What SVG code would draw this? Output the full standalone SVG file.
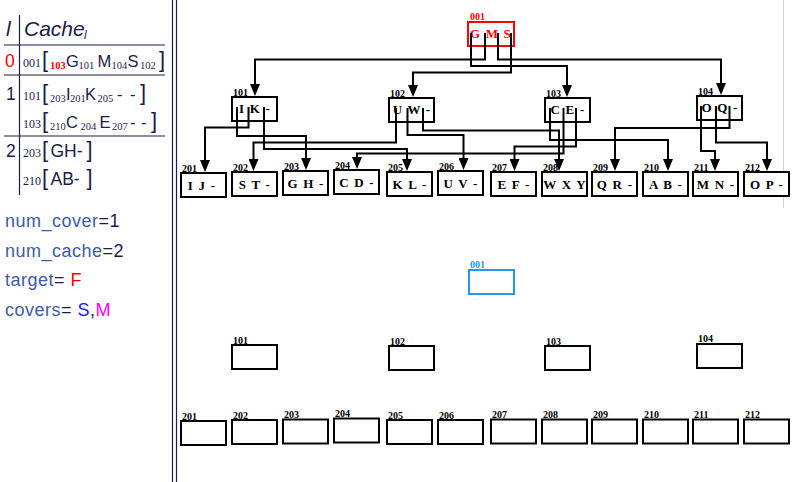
<svg xmlns="http://www.w3.org/2000/svg" width="794" height="482" viewBox="0 0 794 482">
<defs>
<style>
.nb{fill:#fff;stroke:#000;stroke-width:2}
.rb{fill:#fff;stroke:#ff0000;stroke-width:2}
.bb{fill:#fff;stroke:#2196f3;stroke-width:2}
.lbl{font-family:"Liberation Serif",serif;font-weight:bold;font-size:10px;fill:#000}
.key{font-family:"Liberation Serif",serif;font-weight:bold;font-size:13px;fill:#000;text-anchor:middle;letter-spacing:1.2px}
.cn{fill:none;stroke:#000;stroke-width:2;marker-end:url(#ah)}
.sans{font-family:"Liberation Sans",Arial,sans-serif;fill:#1b1b4b}
.big{font-size:16.5px}
.br{font-size:22px}
.ser{font-family:"Liberation Serif",serif;fill:#1b1b4b;font-size:12px}
.sub{font-family:"Liberation Serif",serif;fill:#1b1b4b;font-size:10.5px}
.rule{stroke:#1b1b4b;stroke-width:1.2}
.info{font-family:"Liberation Sans",Arial,sans-serif;font-size:18px;letter-spacing:0.5px}
</style>
<marker id="ah" markerUnits="userSpaceOnUse" markerWidth="12" markerHeight="10" refX="6" refY="5" orient="auto">
<path d="M0,0 L12,5 L0,10 z" fill="#000"/>
</marker>
</defs>
<rect x="0" y="0" width="794" height="482" fill="#fff"/>

<!-- left panel -->
<g id="table">
<line class="rule" x1="19.5" y1="15" x2="19.5" y2="195"/>
<line class="rule" x1="4" y1="45" x2="165" y2="45"/>
<line class="rule" x1="4" y1="75" x2="165" y2="75"/>
<line class="rule" x1="4" y1="136" x2="165" y2="136"/>
<text class="sans" x="6" y="36" font-size="21" font-style="italic">l</text>
<text class="sans" x="24" y="36" font-size="21" font-style="italic">Cache</text>
<text class="sans" x="84" y="39" font-size="12" font-style="italic">l</text>

<text class="sans" x="5" y="67" font-size="17.5" style="fill:#ff0000">0</text>
<text class="ser" x="23" y="67">001</text>
<text class="sans br" x="42" y="67">[</text>
<text x="50" y="69" font-family="Liberation Serif,serif" font-weight="bold" font-size="10.5" fill="#ff0000">103</text>
<text class="sans big" x="66" y="67">G</text>
<text class="sub" x="78.5" y="69">101</text>
<text class="sans big" x="97.5" y="67">M</text>
<text class="sub" x="111.5" y="69">104</text>
<text class="sans big" x="127.5" y="67">S</text>
<text class="sub" x="140" y="69">102</text>
<text class="sans br" x="159" y="67">]</text>

<text class="sans" x="6" y="100" font-size="17.5">1</text>
<text class="ser" x="23" y="100">101</text>
<text class="sans br" x="42" y="100">[</text>
<text class="sub" x="50" y="102">203</text>
<text class="sans big" x="66" y="100">I</text>
<text class="sub" x="70" y="102">201</text>
<text class="sans big" x="85" y="100">K</text>
<text class="sub" x="97.5" y="102">205</text>
<text class="sans big" x="117" y="100">-</text>
<text class="sans big" x="130" y="100">-</text>
<text class="sans br" x="140" y="100">]</text>

<text class="ser" x="23" y="128">103</text>
<text class="sans br" x="42" y="128">[</text>
<text class="sub" x="50" y="130">210</text>
<text class="sans big" x="66" y="128">C</text>
<text class="sub" x="80.5" y="130">204</text>
<text class="sans big" x="99.5" y="128">E</text>
<text class="sub" x="112" y="130">207</text>
<text class="sans big" x="130" y="128">-</text>
<text class="sans big" x="141" y="128">-</text>
<text class="sans br" x="151" y="128">]</text>

<text class="sans" x="6" y="157" font-size="17.5">2</text>
<text class="ser" x="23" y="157">203</text>
<text class="sans br" x="42" y="157">[</text>
<text class="sans" x="50.5" y="157" font-size="17.5">GH-</text>
<text class="sans br" x="86.5" y="157">]</text>

<text class="ser" x="23" y="185">210</text>
<text class="sans br" x="42" y="185">[</text>
<text class="sans" x="50.5" y="185" font-size="17.5">AB-</text>
<text class="sans br" x="86.5" y="185">]</text>
</g>

<g id="info">
<text class="info" x="5" y="227"><tspan fill="#3d5aa8">num_cover</tspan><tspan fill="#1b1b4b">=1</tspan></text>
<text class="info" x="5" y="257"><tspan fill="#3d5aa8">num_cache</tspan><tspan fill="#1b1b4b">=2</tspan></text>
<text class="info" x="5" y="286"><tspan fill="#3d5aa8">target</tspan><tspan fill="#1b1b4b">= </tspan><tspan fill="#ff0000">F</tspan></text>
<text class="info" x="5" y="316"><tspan fill="#3d5aa8">covers</tspan><tspan fill="#1b1b4b">= </tspan><tspan fill="#1a1aff">S</tspan><tspan fill="#1b1b4b">,</tspan><tspan fill="#ff00ff">M</tspan></text>
</g>

<g id="divider">
<line x1="172.5" y1="0" x2="172.5" y2="482" stroke="#1b1b50" stroke-width="1.2"/>
<line x1="176.5" y1="0" x2="176.5" y2="482" stroke="#1b1b50" stroke-width="1.2"/>
<line x1="783.5" y1="0" x2="783.5" y2="208" stroke="#d4d4d4" stroke-width="1"/>
</g>

<!-- top tree nodes -->
<g id="n001"><rect class="rb" x="468" y="22" width="46" height="24"/><text class="lbl" x="470" y="19.5" style="fill:#ff0000">001</text><text class="key" x="491" y="38" style="fill:#ff0000">G M S</text></g>
<g id="n101"><rect class="nb" x="232" y="97" width="45" height="24"/><text class="lbl" x="233" y="96">101</text><text class="key" x="255" y="113">I K -</text></g>
<g id="n102"><rect class="nb" x="389" y="98" width="45" height="24"/><text class="lbl" x="390" y="96.5">102</text><text class="key" x="412" y="114">U W -</text></g>
<g id="n103"><rect class="nb" x="545" y="98" width="45" height="24"/><text class="lbl" x="546" y="96.5">103</text><text class="key" x="568" y="114">C E -</text></g>
<g id="n104"><rect class="nb" x="697" y="96" width="45" height="24"/><text class="lbl" x="698" y="94.5">104</text><text class="key" x="720" y="112">O Q -</text></g>

<g id="n201"><rect class="nb" x="181" y="173" width="45" height="24"/><text class="lbl" x="182" y="171.5">201</text><text class="key" x="202" y="190">I J -</text></g>
<g id="n202"><rect class="nb" x="232" y="172" width="45" height="24"/><text class="lbl" x="233" y="170.5">202</text><text class="key" x="255" y="189">S T -</text></g>
<g id="n203"><rect class="nb" x="283" y="171" width="45" height="24"/><text class="lbl" x="284" y="169.5">203</text><text class="key" x="306" y="188">G H -</text></g>
<g id="n204"><rect class="nb" x="334" y="170" width="45" height="24"/><text class="lbl" x="335" y="168.5">204</text><text class="key" x="357" y="187">C D -</text></g>
<g id="n205"><rect class="nb" x="387" y="172" width="45" height="24"/><text class="lbl" x="388" y="170.5">205</text><text class="key" x="410" y="189">K L -</text></g>
<g id="n206"><rect class="nb" x="438" y="171" width="45" height="24"/><text class="lbl" x="439" y="169.5">206</text><text class="key" x="461" y="188">U V -</text></g>
<g id="n207"><rect class="nb" x="491" y="172" width="45" height="24"/><text class="lbl" x="492" y="170.5">207</text><text class="key" x="514" y="189">E F -</text></g>
<g id="n208"><rect class="nb" x="542" y="172" width="45" height="24"/><text class="lbl" x="543" y="170.5">208</text><text class="key" x="565" y="189">W X Y</text></g>
<g id="n209"><rect class="nb" x="592" y="172" width="45" height="24"/><text class="lbl" x="593" y="170.5">209</text><text class="key" x="615" y="189">Q R -</text></g>
<g id="n210"><rect class="nb" x="643" y="172" width="45" height="24"/><text class="lbl" x="644" y="170.5">210</text><text class="key" x="666" y="189">A B -</text></g>
<g id="n211"><rect class="nb" x="693" y="172" width="45" height="24"/><text class="lbl" x="694" y="170.5">211</text><text class="key" x="716" y="189">M N -</text></g>
<g id="n212"><rect class="nb" x="744" y="172" width="45" height="24"/><text class="lbl" x="745" y="170.5">212</text><text class="key" x="767" y="189">O P -</text></g>

<!-- top tree connectors -->
<g id="connectors">
<polyline class="cn" points="471,33 471,66 567,66 567,91"/>
<polyline class="cn" points="485,33 485,59.5 255,59.5 255,90"/>
<polyline class="cn" points="498,33 498,59.5 721,59.5 721,89"/>
<polyline class="cn" points="511,33 511,72.5 413,72.5 413,91"/>

<polyline class="cn" points="237,107 237,136 306,136 306,164"/>
<polyline class="cn" points="248.5,107 248.5,127.5 205,127.5 205,166"/>
<polyline class="cn" points="264,107 264,149 407,149 407,165"/>

<polyline class="cn" points="396,108 396,142.5 253.5,142.5 253.5,165"/>
<polyline class="cn" points="407.5,108 407.5,135 463.5,135 463.5,164"/>
<polyline class="cn" points="423,108 423,130.5 559,130.5 559,165"/>

<polyline class="cn" points="550,108 550,140 668,140 668,165"/>
<polyline class="cn" points="563.5,108 563.5,153.5 357,153.5 357,163"/>
<polyline class="cn" points="576,108 576,146.5 514.5,146.5 514.5,165"/>

<polyline class="cn" points="701,106 701,151 715,151 715,165"/>
<polyline class="cn" points="716,106 716,142.5 767,142.5 767,165"/>
<polyline class="cn" points="729.5,106 729.5,128 615,128 615,165"/>
</g>

<!-- bottom empty tree -->
<g id="m001"><rect class="bb" x="469" y="270" width="45" height="24"/><text class="lbl" x="470" y="267.5" style="fill:#2196f3">001</text></g>
<g id="m101"><rect class="nb" x="232" y="345" width="45" height="24"/><text class="lbl" x="233" y="343.5">101</text></g>
<g id="m102"><rect class="nb" x="389" y="346" width="45" height="24"/><text class="lbl" x="390" y="344.5">102</text></g>
<g id="m103"><rect class="nb" x="545" y="346" width="45" height="24"/><text class="lbl" x="546" y="344.5">103</text></g>
<g id="m104"><rect class="nb" x="697" y="344" width="45" height="24"/><text class="lbl" x="698" y="342">104</text></g>

<g id="m201"><rect class="nb" x="181" y="421" width="45" height="24"/><text class="lbl" x="182" y="419.5">201</text></g>
<g id="m202"><rect class="nb" x="232" y="420" width="45" height="24"/><text class="lbl" x="233" y="418.5">202</text></g>
<g id="m203"><rect class="nb" x="283" y="419.5" width="45" height="24"/><text class="lbl" x="284" y="418">203</text></g>
<g id="m204"><rect class="nb" x="334" y="418.5" width="45" height="24"/><text class="lbl" x="335" y="417">204</text></g>
<g id="m205"><rect class="nb" x="387" y="420" width="45" height="24"/><text class="lbl" x="388" y="418.5">205</text></g>
<g id="m206"><rect class="nb" x="438" y="420" width="45" height="24"/><text class="lbl" x="439" y="418.5">206</text></g>
<g id="m207"><rect class="nb" x="491" y="419.5" width="45" height="24"/><text class="lbl" x="492" y="418">207</text></g>
<g id="m208"><rect class="nb" x="542" y="419.5" width="45" height="24"/><text class="lbl" x="543" y="418">208</text></g>
<g id="m209"><rect class="nb" x="592" y="419.5" width="45" height="24"/><text class="lbl" x="593" y="418">209</text></g>
<g id="m210"><rect class="nb" x="643" y="419.5" width="45" height="24"/><text class="lbl" x="644" y="418">210</text></g>
<g id="m211"><rect class="nb" x="693" y="419.5" width="45" height="24"/><text class="lbl" x="694" y="418">211</text></g>
<g id="m212"><rect class="nb" x="744" y="419.5" width="45" height="24"/><text class="lbl" x="745" y="418">212</text></g>
</svg>
